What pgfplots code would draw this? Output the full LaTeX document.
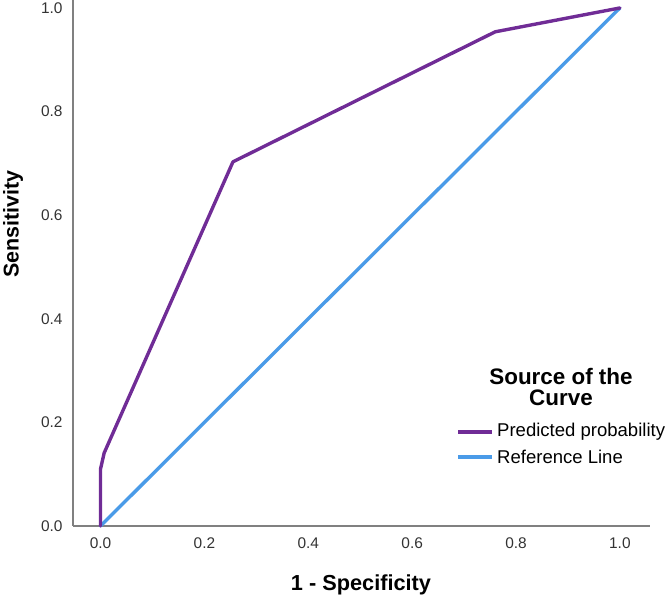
\documentclass[border=0pt]{standalone}
\usepackage{pgfplots}
\pgfplotsset{compat=1.18}
\usepackage{fontspec}
\setmainfont{Liberation Sans}
\definecolor{rocpurple}{RGB}{112,44,150}
\definecolor{refblue}{RGB}{74,155,232}
\definecolor{axgray}{RGB}{128,128,128}
\begin{document}
\begin{tikzpicture}[x=1bp,y=1bp]
\useasboundingbox (0,0) rectangle (666,600);
\begin{axis}[
  at={(73bp,74bp)}, anchor=south west,
  scale only axis, width=577bp, height=526bp,
  xmin=-0.053, xmax=1.058, ymin=0, ymax=1.0154,
  axis lines*=left,
  axis line style={axgray, line width=1.4pt, -},
  xtick={0,0.2,0.4,0.6,0.8,1.0},
  ytick={0,0.2,0.4,0.6,0.8,1.0},
  major tick length=0pt,
  xticklabel style={font=\fontsize{15.5}{17}\selectfont, text=black!80, yshift=-8bp},
  yticklabel style={font=\fontsize{15.5}{17}\selectfont, text=black!80, xshift=-7bp},
  /pgf/number format/assume math mode=true,
  /pgf/number format/.cd, fixed, fixed zerofill, precision=1,
  /pgfplots/.cd,
  clip=false,
]
\addplot[refblue, line width=3.4pt, line cap=round] coordinates {(0,0) (1,1)};
\addplot[rocpurple, line width=3.4pt, line join=round, line cap=round] coordinates {
  (0,0) (0,0.11) (0.007,0.141) (0.255,0.703) (0.76,0.954) (1,1)};
\end{axis}
% axis titles
\node[font=\bfseries\fontsize{21.8}{24}\selectfont] at (361,15) {1 - Specificity};
\node[font=\bfseries\fontsize{21.5}{24}\selectfont, rotate=90] at (13,376) {Sensitivity};
% legend
\node[font=\bfseries\fontsize{22.5}{25}\selectfont, align=center] at (561,213) {Source of the\\[-4pt]Curve};
\draw[rocpurple, line width=3.4pt] (458,168) -- (492,168);
\draw[refblue, line width=3.4pt] (458,143) -- (492,143);
\node[anchor=west, font=\fontsize{18.6}{21}\selectfont, inner sep=0pt] at (497,168) {Predicted probability};
\node[anchor=west, font=\fontsize{18.6}{21}\selectfont, inner sep=0pt] at (497,143) {Reference Line};
\end{tikzpicture}
\end{document}
